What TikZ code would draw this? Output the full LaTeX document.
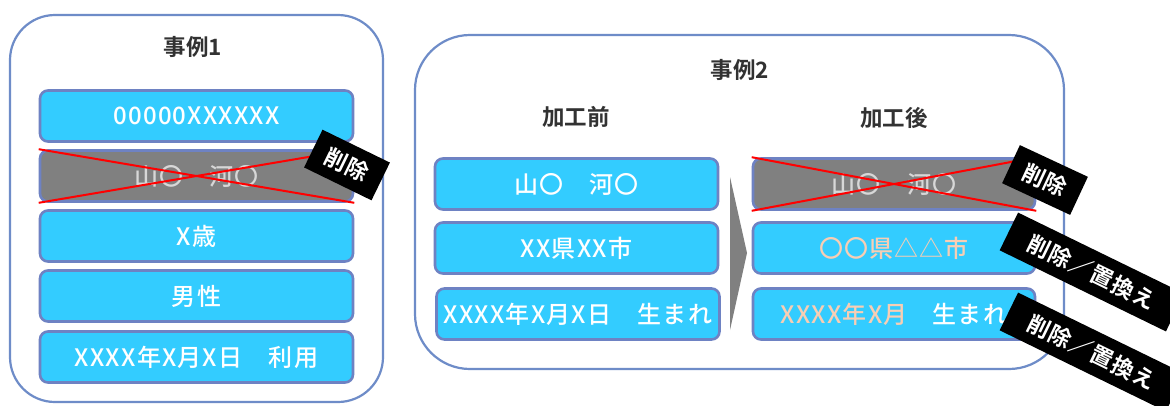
\documentclass[tikz,border=0pt]{standalone}
\usepackage{fontspec}
\newfontfamily\jp{Noto Sans CJK JP Medium}[LetterSpace=5]
\newfontfamily\jpb{Noto Sans CJK JP Bold}
\newfontfamily\jpt{Noto Sans CJK JP Bold}[LetterSpace=4]
\definecolor{cyanfill}{RGB}{51,204,255}
\definecolor{boxedge}{RGB}{110,130,195}
\definecolor{frameedge}{RGB}{110,140,200}
\definecolor{grayfill}{RGB}{128,128,128}
\definecolor{titlegray}{RGB}{50,50,50}
\definecolor{peach}{RGB}{248,206,180}
\definecolor{ghost}{RGB}{215,215,215}
\begin{document}
\begin{tikzpicture}[x=1pt,y=-1pt,
  frame/.style={draw=frameedge,line width=2.2pt,rounded corners=#1},
  rowbox/.style={draw=boxedge,line width=2.6pt,fill=cyanfill,rounded corners=8pt,
    minimum height=51pt,inner sep=0pt,text=white,font=\jp\fontsize{24}{26}\selectfont},
  graybox/.style={rowbox,fill=grayfill,text=ghost},
  title/.style={text=titlegray,font=\jpb\fontsize{22.5}{24}\selectfont},
  tag/.style={fill=black,text=white,inner sep=0pt,minimum height=42pt,
    font=\jpt\fontsize{22.5}{24}\selectfont},
  cross/.style={draw=red,line width=2pt}]
\useasboundingbox (0,0) rectangle (1170,405);
\fill[white] (0,0) rectangle (1170,405);
% frames
\draw[frame=45pt] (10,15) rectangle (383,402);
\draw[frame=55pt] (415,35) rectangle (1064,369);
% case 1
\node[title] (t1) at (193,47) {事例1};
\node[rowbox,minimum width=313pt] (a1) at (196.5,116) {00000XXXXXX};
\node[graybox,minimum width=313pt] (a2) at (196.5,176) {\raisebox{-4pt}{山〇　河〇}};
\node[rowbox,minimum width=313pt] (a3) at (196.5,236) {X歳};
\node[rowbox,minimum width=313pt] (a4) at (196.5,296) {男性};
\node[rowbox,minimum width=313pt] (a5) at (196.5,357) {XXXX年X月X日　利用};
\draw[cross] (a2.north west) -- (a2.south east);
\draw[cross] (a2.south west) -- (a2.north east);
\node[tag,minimum width=75pt,rotate=-26] (d1) at (347,165) {削除};
% case 2
\node[title] (t2) at (740,70) {事例2};
\node[title] (h1) at (576,117) {加工前};
\node[title] (h2) at (894,118) {加工後};
\node[rowbox,minimum width=283pt] (b1) at (576.5,184) {山〇　河〇};
\node[rowbox,minimum width=283pt] (b2) at (576.5,248) {XX県XX市};
\node[rowbox,minimum width=283pt] (b3) at (578,314) {XXXX年X月X日　生まれ};
\fill[grayfill] (730,177) coordinate (c1) -- (747,253) coordinate (c2) -- (730,330) coordinate (c3) -- cycle;
\node[graybox,minimum width=282pt] (e1) at (894,184) {\raisebox{-4pt}{山〇　河〇}};
\node[rowbox,minimum width=282pt,text=peach] (e2) at (894,248) {〇〇県△△市};
\node[rowbox,minimum width=282pt] (e3) at (894,314) {\textcolor{peach}{XXXX年X月}　生まれ};
\draw[cross] (e1.north west) -- (e1.south east);
\draw[cross] (e1.south west) -- (e1.north east);
\node[tag,minimum width=75pt,rotate=-25] (d2) at (1045,180) {削除};
\node[tag,minimum width=185pt,rotate=-26] (d3) at (1092,272) {削除／置換え};
\node[tag,minimum width=185pt,rotate=-26] (d4) at (1092,352) {削除／置換え};
\end{tikzpicture}
\end{document}
